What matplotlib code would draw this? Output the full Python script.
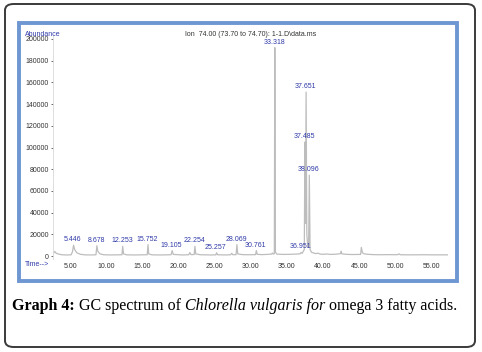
import matplotlib
matplotlib.use('Agg')
import matplotlib.pyplot as plt
from matplotlib.patches import FancyBboxPatch, Rectangle

# chromatogram trace (time in min, abundance)
trace_time = [2.70, 2.85, 3.05, 3.40, 3.80, 4.40, 5.10, 5.30, 5.446, 5.60, 5.90, 6.40,
              7.00, 8.00, 8.55, 8.678, 8.80, 9.10, 9.60, 10.50, 11.40, 12.15, 12.253,
              12.36, 12.80, 14.00, 15.65, 15.752, 15.85, 16.30, 17.50, 18.95, 19.105,
              19.25, 20.50, 21.40, 21.55, 21.70, 22.15, 22.254, 22.36, 23.00, 24.50,
              25.15, 25.257, 25.38, 26.50, 27.20, 27.35, 27.50, 27.95, 28.069, 28.18,
              28.80, 29.80, 30.65, 30.761, 30.87, 31.50, 32.20, 32.85, 33.00, 33.10,
              33.25, 33.318, 33.40, 33.60, 34.50, 35.50, 36.20, 36.80, 36.951, 37.10,
              37.40, 37.485, 37.56, 37.651, 37.75, 37.90, 38.00, 38.096, 38.20, 38.40,
              38.70, 39.00, 39.30, 39.60, 40.00, 40.50, 41.00, 41.80, 42.40, 42.50,
              42.60, 43.20, 44.00, 45.20, 45.30, 45.45, 45.70, 46.20, 47.00, 48.00,
              49.00, 50.30, 50.50, 50.70, 52.00, 54.00, 55.00, 57.30]
trace_abund = [3000, 4200, 2500, 1800, 1200, 1000, 1100, 4000, 10000, 6000, 3000, 1600,
               1100, 1000, 1200, 9500, 4500, 2000, 1200, 1000, 1100, 1200, 9000,
               2000, 1100, 1000, 1200, 10500, 2000, 1100, 1000, 1200, 5000,
               1500, 1000, 1200, 3200, 1300, 1400, 9000, 2000, 1200, 1000,
               1100, 3000, 1200, 1000, 1200, 2500, 1200, 1300, 10500, 2000,
               1300, 1200, 1300, 5000, 1600, 1300, 1500, 1800, 2800, 1800,
               2200, 192000, 3500, 1800, 1500, 1600, 1800, 2000, 3300, 2500,
               6000, 105000, 30000, 151000, 20000, 8000, 10000, 74500, 6000, 3500,
               2800, 2200, 2700, 1800, 1600, 1900, 1500, 1700, 2200, 4500,
               2000, 1600, 1400, 1500, 8000, 3000, 2000, 1600, 1300, 1200,
               1300, 1200, 2000, 1200, 1100, 1200, 1100, 1100]

# labelled peaks
peak_rt = [5.446, 8.678, 12.253, 15.752, 19.105, 22.254, 25.257, 28.069, 30.761,
           33.318, 36.951, 37.485, 37.651, 38.096]
peak_abund = [10000, 9500, 9000, 10500, 5000, 9000, 3000, 10500, 5000,
              192000, 3300, 105000, 151000, 74500]
peak_labels = ['5.446', '8.678', '12.253', '15.752', '19.105', '22.254', '25.257',
               '28.069', '30.761', '33.318', '36.951', '37.485', '37.651', '38.096']

yticks = [0, 20000, 40000, 60000, 80000, 100000, 120000, 140000, 160000, 180000, 200000]
xticks = [5, 10, 15, 20, 25, 30, 35, 40, 45, 50, 55]

caption = [('Graph 4: ', 'normal', 'bold'),
           ('GC spectrum of ', 'normal', 'normal'),
           ('Chlorella vulgaris for ', 'italic', 'normal'),
           ('omega 3 fatty acids.', 'normal', 'normal')]

W, H = 482, 352
plt.rcParams['font.family'] = ['Liberation Sans', 'DejaVu Sans']
fig = plt.figure(figsize=(W / 100, H / 100), dpi=100)


def fx(x):
    return x / W


def fy(y):
    return 1 - y / H


# outer rounded box
fig.patches.append(FancyBboxPatch((fx(5), fy(347)), fx(470), 343 / H,
                                  boxstyle='round,pad=0,rounding_size=0.018',
                                  transform=fig.transFigure, fc='white',
                                  ec='#3a3a3a', lw=1.4, zorder=-2))
# blue frame around the chart
fig.patches.append(Rectangle((fx(19), fy(281)), fx(438), 258 / H,
                             transform=fig.transFigure, fc='white',
                             ec='#6e97d2', lw=2.8, zorder=-1))

ax = fig.add_axes([fx(53), fy(259.3), fx(448 - 53), (259.3 - 35.7) / H])
ax.set_zorder(2)
ax.plot(trace_time, trace_abund, color='#bdbdbd', lw=0.9)

for rt, ab, lab in zip(peak_rt, peak_abund, peak_labels):
    ax.annotate(lab, (rt, ab), xytext=(-0.5, 1.5), textcoords='offset points',
                ha='center', va='bottom', fontsize=5, color='#2f3aa8')

ax.set_xlim(2.6, 57.3)
ax.set_ylim(-3000, 203000)
ax.set_yticks(yticks)
ax.set_yticklabels([str(v) for v in yticks])
ax.set_xticks(xticks)
ax.set_xticklabels(['%.2f' % v for v in xticks])
ax.tick_params(labelsize=5, colors='#333333', length=1.5, width=0.5, pad=1.5)
ax.tick_params(axis='x', length=0, pad=3)
for s in ['top', 'right', 'bottom']:
    ax.spines[s].set_visible(False)
ax.spines['left'].set_color('#d8d8d8')
ax.spines['left'].set_linewidth(0.6)
ax.patch.set_alpha(0)

fig.text(fx(251), fy(35), 'Ion  74.00 (73.70 to 74.70): 1-1.D\\data.ms',
         ha='center', va='center', fontsize=5, color='#333333')
fig.text(fx(25), fy(34), 'Abundance', ha='left', va='center', fontsize=5,
         color='#2f3aa8')
fig.text(fx(25), fy(265), 'Time-->', ha='left', va='center', fontsize=5,
         color='#2f3aa8')

# caption, pieced together so each part keeps its own style
renderer = fig.canvas.get_renderer()
x = 12
for txt, style, weight in caption:
    t = fig.text(fx(x), fy(310), txt, ha='left', va='baseline', fontsize=11.5,
                 family='Liberation Serif', style=style, weight=weight)
    x += t.get_window_extent(renderer).width

fig.savefig('out.png', dpi=100)
